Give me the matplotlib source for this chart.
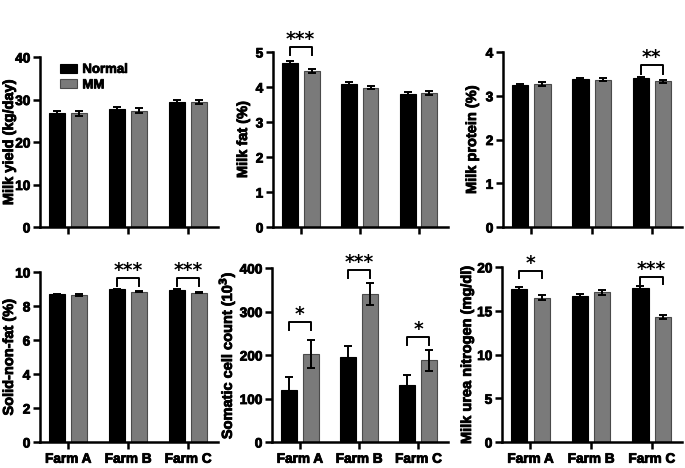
import matplotlib
matplotlib.use("Agg")
import matplotlib.pyplot as plt
import matplotlib.patheffects as pe
import numpy as np

plt.rcParams['font.family'] = ['Liberation Sans', 'DejaVu Sans']
plt.rcParams['font.weight'] = 'bold'

farms = ["Farm A", "Farm B", "Farm C"]
groups = ["Normal", "MM"]

yield_normal = [26.9, 27.8, 29.5]
yield_normal_err = [0.5, 0.4, 0.4]
yield_mm = [26.8, 27.4, 29.4]
yield_mm_err = [0.6, 0.5, 0.4]

fat_normal = [4.70, 4.08, 3.80]
fat_normal_err = [0.05, 0.05, 0.05]
fat_mm = [4.45, 3.98, 3.82]
fat_mm_err = [0.06, 0.05, 0.06]

protein_normal = [3.25, 3.38, 3.40]
protein_normal_err = [0.03, 0.02, 0.02]
protein_mm = [3.27, 3.37, 3.33]
protein_mm_err = [0.04, 0.03, 0.03]

snf_normal = [8.68, 8.98, 8.97]
snf_normal_err = [0.03, 0.03, 0.03]
snf_mm = [8.65, 8.85, 8.78]
snf_mm_err = [0.04, 0.04, 0.03]

scc_normal = [119, 195, 130]
scc_normal_err = [31, 25, 24]
scc_mm = [203, 340, 188]
scc_mm_err = [32, 25, 24]

mun_normal = [17.5, 16.7, 17.6]
mun_normal_err = [0.25, 0.2, 0.2]
mun_mm = [16.5, 17.1, 14.3]
mun_mm_err = [0.3, 0.25, 0.2]

# significance: (farm index, label, bracket top y, leg bottom y)
sig_fat = [(0, "***", 5.14, 4.90)]
sig_protein = [(2, "**", 3.70, 3.49)]
sig_snf = [(1, "***", 9.65, 9.16), (2, "***", 9.65, 9.16)]
sig_scc = [(0, "*", 277, 258), (1, "***", 395, 377), (2, "*", 241, 224)]
sig_mun = [(0, "*", 19.6, 18.7), (2, "***", 18.9, 18.1)]

panels = [
    dict(n=yield_normal, ne=yield_normal_err, m=yield_mm, me=yield_mm_err,
         ylabel="Milk yield (kg/day)", ylim=40, yt=[0, 10, 20, 30, 40], sig=[],
         pos=[40, 218, 57, 227], lx=16),
    dict(n=fat_normal, ne=fat_normal_err, m=fat_mm, me=fat_mm_err,
         ylabel="Milk fat (%)", ylim=5, yt=[0, 1, 2, 3, 4, 5], sig=sig_fat,
         pos=[273, 448, 52, 227], lx=250),
    dict(n=protein_normal, ne=protein_normal_err, m=protein_mm, me=protein_mm_err,
         ylabel="Milk protein (%)", ylim=4, yt=[0, 1, 2, 3, 4], sig=sig_protein,
         pos=[503, 682, 52, 227], lx=479),
    dict(n=snf_normal, ne=snf_normal_err, m=snf_mm, me=snf_mm_err,
         ylabel="Solid-non-fat (%)", ylim=10, yt=[0, 2, 4, 6, 8, 10], sig=sig_snf,
         pos=[40, 218, 272, 442], lx=16),
    dict(n=scc_normal, ne=scc_normal_err, m=scc_mm, me=scc_mm_err,
         ylabel="Somatic cell count (10$^\\mathbf{3}$)", ylim=400, yt=[0, 100, 200, 300, 400], sig=sig_scc,
         pos=[272, 448, 268, 442], lx=237),
    dict(n=mun_normal, ne=mun_normal_err, m=mun_mm, me=mun_mm_err,
         ylabel="Milk urea nitrogen (mg/dl)", ylim=20, yt=[0, 5, 10, 15, 20], sig=sig_mun,
         pos=[502, 682, 267, 442], lx=474),
]

W, H = 685, 468
fig = plt.figure(figsize=(W / 100, H / 100), dpi=100)

x = np.arange(len(farms))
bw = 0.27
off = 0.185
gray = '#7a7a7a'
heavy = [pe.withStroke(linewidth=0.6, foreground='black')]

for i, p in enumerate(panels):
    l, r, t, b = p['pos']
    ax = fig.add_axes([l / W, 1 - b / H, (r - l) / W, (b - t) / H])
    ekw = dict(ecolor='black', elinewidth=1.4, capsize=3, capthick=1.4)
    ax.bar(x - off, p['n'], bw, yerr=p['ne'], color='black', edgecolor='black',
           linewidth=0.8, error_kw=ekw, label=groups[0], zorder=2)
    ax.bar(x + off, p['m'], bw, yerr=p['me'], color=gray, edgecolor='#4a4a4a',
           linewidth=0.8, error_kw=ekw, label=groups[1], zorder=2)
    ax.set_xlim(-0.47, 2.5)
    ax.set_ylim(0, p['ylim'])
    ax.set_yticks(p['yt'])
    ax.set_xticks(x)
    if i >= 3:
        ax.set_xticklabels(farms, fontsize=10, fontweight='bold')
    else:
        ax.set_xticklabels([])
    for s in ['top', 'right']:
        ax.spines[s].set_visible(False)
    for s in ['left', 'bottom']:
        ax.spines[s].set_linewidth(1.8)
    ax.tick_params(axis='both', width=1.8, length=5, labelsize=9.8, pad=2)
    for lab in ax.get_yticklabels() + ax.get_xticklabels():
        lab.set_fontweight('bold')
        lab.set_path_effects(heavy)
    ax.set_ylabel(p['ylabel'], fontsize=10.5, fontweight='bold')
    ax.yaxis.label.set_path_effects(heavy)
    ax.yaxis.set_label_coords((p['lx'] - l) / (r - l), 0.5)
    for (fi, lab, ytop, ybot) in p['sig']:
        x0, x1 = fi - off, fi + off
        ax.plot([x0, x0, x1, x1], [ybot, ytop, ytop, ybot], color='black',
                lw=1.4, clip_on=False, zorder=3)
        ax.annotate(lab, xy=(fi, ytop), xytext=(0, -1.5), textcoords='offset points',
                    ha='center', va='bottom', fontsize=13.5, fontweight='bold',
                    family='DejaVu Sans', annotation_clip=False)
    if i == 0:
        leg = ax.legend(loc='upper left', bbox_to_anchor=(0.075, 1.0), frameon=False,
                        borderpad=0, handlelength=1.3, handleheight=0.7, handletextpad=0.4,
                        labelspacing=0.25, prop=dict(weight='bold', size=9.5))
        for txt in leg.get_texts():
            txt.set_path_effects(heavy)

fig.savefig("out.png", dpi=100)
